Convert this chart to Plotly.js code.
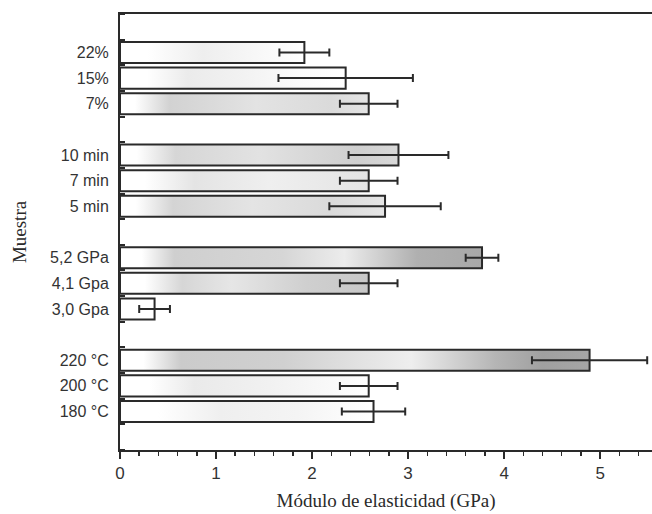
<!DOCTYPE html>
<html>
<head>
<meta charset="utf-8">
<script src="https://cdn.plot.ly/plotly-3.0.1.min.js"></script>
<style>html,body{margin:0;padding:0;background:#fff;overflow:hidden;}</style>
</head>
<body>
<div id="chart" style="width:652px;height:514px;"></div>
<script>
// ---- data ----
const groups = [
  ["22%", "15%", "7%"],
  ["10 min", "7 min", "5 min"],
  ["5,2 GPa", "4,1 Gpa", "3,0 Gpa"],
  ["220 °C", "200 °C", "180 °C"]
];
const modulus = [1.92, 2.35, 2.59, 2.90, 2.59, 2.76, 3.77, 2.59, 0.36, 4.89, 2.59, 2.64];
const modulusErr = [0.26, 0.70, 0.30, 0.52, 0.30, 0.58, 0.17, 0.30, 0.16, 0.60, 0.30, 0.33];

// ---- style: shading of each bar (horizontal gradient, fraction of bar length) ----
const shading = [
  [[0,'#ffffff'],[0.15,'#ffffff'],[0.45,'#eeeeee'],[0.7,'#f6f6f6'],[1,'#ffffff']],
  [[0,'#ffffff'],[0.12,'#ffffff'],[0.3,'#ebebeb'],[0.55,'#f2f2f2'],[0.8,'#fbfbfb'],[1,'#ffffff']],
  [[0,'#ffffff'],[0.06,'#ffffff'],[0.2,'#d2d2d2'],[0.55,'#e3e3e3'],[0.85,'#dadada'],[1,'#e4e4e4']],
  [[0,'#ffffff'],[0.06,'#ffffff'],[0.2,'#d6d6d6'],[0.5,'#e2e2e2'],[0.85,'#cfcfcf'],[1,'#d8d8d8']],
  [[0,'#ffffff'],[0.1,'#ffffff'],[0.3,'#e4e4e4'],[0.6,'#efefef'],[1,'#e4e4e4']],
  [[0,'#ffffff'],[0.06,'#ffffff'],[0.2,'#d4d4d4'],[0.5,'#e4e4e4'],[0.8,'#dadada'],[1,'#e6e6e6']],
  [[0,'#ffffff'],[0.06,'#ffffff'],[0.15,'#cfcfcf'],[0.45,'#d6d6d6'],[0.62,'#ececec'],[0.82,'#b0b0b0'],[1,'#a8a8a8']],
  [[0,'#ffffff'],[0.1,'#ffffff'],[0.25,'#d6d6d6'],[0.45,'#e6e6e6'],[0.75,'#cfcfcf'],[1,'#c8c8c8']],
  [[0,'#ffffff'],[1,'#ffffff']],
  [[0,'#ffffff'],[0.05,'#ffffff'],[0.13,'#cbcbcb'],[0.35,'#d0d0d0'],[0.62,'#eeeeee'],[0.8,'#b5b5b5'],[0.9,'#a0a0a0'],[1,'#a6a6a6']],
  [[0,'#ffffff'],[0.12,'#ffffff'],[0.3,'#eaeaea'],[0.6,'#f1f1f1'],[0.85,'#f9f9f9'],[1,'#ffffff']],
  [[0,'#ffffff'],[0.15,'#ffffff'],[0.4,'#efefef'],[0.7,'#f4f4f4'],[1,'#ffffff']]
];

// ---- build slot positions: one empty slot above, between and below each group ----
const labels = [], pos = [];
let slot = 1;
groups.forEach(g => {
  g.forEach(lab => { labels.push(lab); pos.push(slot + 0.5); slot++; });
  slot++;
});
const nSlots = slot;            // 17
const half = 0.41;
const ink = '#2a2a2a';

const traces = [];
// base bars (white)
traces.push({
  type: 'bar', orientation: 'h', x: modulus, y: pos, width: 2 * half,
  marker: {color: '#ffffff', line: {width: 0}}, hoverinfo: 'x+text', text: labels,
  textposition: 'none', showlegend: false
});
// gradient filled bar bodies with outline
modulus.forEach((v, i) => {
  traces.push({
    type: 'scatter', mode: 'lines',
    x: [0, v, v, 0, 0],
    y: [pos[i] - half, pos[i] - half, pos[i] + half, pos[i] + half, pos[i] - half],
    fill: 'toself',
    fillgradient: {type: 'horizontal', colorscale: shading[i]},
    line: {color: ink, width: 2},
    hoverinfo: 'skip', showlegend: false
  });
});
// error bars
traces.push({
  type: 'scatter', mode: 'markers', x: modulus, y: pos,
  marker: {size: 1, color: 'rgba(0,0,0,0)'},
  error_x: {type: 'data', array: modulusErr, visible: true, color: ink, thickness: 2, width: 4},
  hoverinfo: 'skip', showlegend: false
});

const layout = {
  width: 652, height: 514,
  margin: {l: 120, r: 0, t: 14, b: 64},
  paper_bgcolor: '#ffffff', plot_bgcolor: '#ffffff',
  showlegend: false,
  xaxis: {
    range: [0, 5.54], tickmode: 'linear', tick0: 0, dtick: 1,
    ticks: 'outside', ticklen: 7, tickwidth: 2, tickcolor: ink,
    minor: {tick0: 0, dtick: 0.2, ticks: 'outside', ticklen: 4, tickwidth: 1.5, tickcolor: ink},
    showline: true, linecolor: ink, linewidth: 2, mirror: true,
    showgrid: false, zeroline: false,
    tickfont: {family: 'Liberation Sans, Arial, sans-serif', size: 17, color: '#333'},
    title: {text: 'Módulo de elasticidad (GPa)', standoff: 11,
            font: {family: 'Liberation Serif, Times New Roman, serif', size: 19, color: '#2a2a2a'}}
  },
  yaxis: {
    range: [nSlots, 0],
    tickmode: 'array', tickvals: pos, ticktext: labels, ticks: '',
    minor: {tickmode: 'linear', tick0: 0, dtick: 1, ticks: 'inside', ticklen: 5, tickwidth: 2, tickcolor: ink},
    showline: true, linecolor: ink, linewidth: 2, mirror: false,
    showgrid: false, zeroline: false, ticklabelstandoff: 6,
    tickfont: {family: 'Liberation Sans, Arial, sans-serif', size: 16, color: '#333'},
    title: {text: 'Muestra', standoff: 18,
            font: {family: 'Liberation Serif, Times New Roman, serif', size: 19, color: '#2a2a2a'}}
  }
};

Plotly.newPlot('chart', traces, layout, {staticPlot: true, displayModeBar: false});
</script>
</body>
</html>
